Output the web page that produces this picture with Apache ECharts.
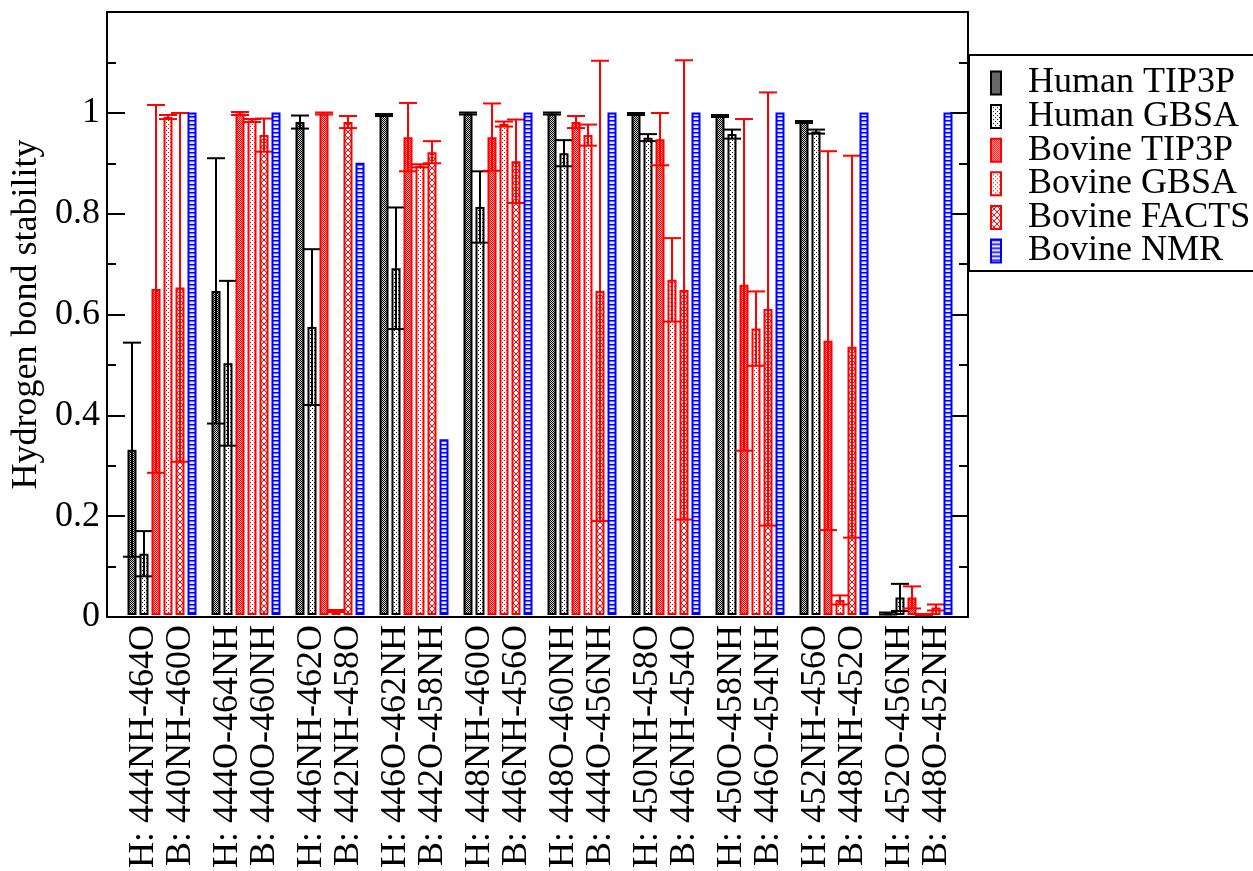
<!DOCTYPE html>
<html>
<head>
<meta charset="utf-8">
<script src="https://cdn.jsdelivr.net/npm/echarts@6/dist/echarts.min.js"></script>
<style>
  html, body { margin: 0; padding: 0; background: #fff; }
  #chart { width: 1253px; height: 871px; }
</style>
</head>
<body>
<div id="chart"></div>
<script>
// Hydrogen bond pairs (human / bovine numbering)
const humanBonds = ['444NH-464O', '444O-464NH', '446NH-462O', '446O-462NH', '448NH-460O',
                    '448O-460NH', '450NH-458O', '450O-458NH', '452NH-456O', '452O-456NH'];
const bovineBonds = ['440NH-460O', '440O-460NH', '442NH-458O', '442O-458NH', '446NH-456O',
                     '444O-456NH', '446NH-454O', '446O-454NH', '448NH-452O', '448O-452NH'];

// Stability fractions and their error half-widths
const humanTip3p    = [0.329, 0.645, 0.981, 0.995, 0.998, 0.998, 0.997, 0.993, 0.981, 0.003];
const humanTip3pErr = [0.213, 0.264, 0.013, 0.002, 0.002, 0.002, 0.002, 0.002, 0.002, 0.002];
const humanGbsa     = [0.122, 0.501, 0.573, 0.690, 0.812, 0.919, 0.950, 0.957, 0.962, 0.035];
const humanGbsaErr  = [0.045, 0.164, 0.155, 0.121, 0.071, 0.026, 0.007, 0.009, 0.004, 0.027];
const bovineTip3p    = [0.649, 0.998, 0.998, 0.951, 0.951, 0.981, 0.947, 0.657, 0.546, 0.035];
const bovineTip3pErr = [0.366, 0.003, 0.002, 0.068, 0.067, 0.012, 0.052, 0.330, 0.377, 0.022];
const bovineGbsa     = [0.991, 0.984, 0.008, 0.894, 0.977, 0.955, 0.667, 0.570, 0.030, 0.001];
const bovineGbsaErr  = [0.004, 0.003, 0.002, 0.003, 0.005, 0.021, 0.083, 0.074, 0.009, 0.001];
const bovineFacts    = [0.652, 0.955, 0.981, 0.921, 0.903, 0.645, 0.647, 0.609, 0.534, 0.015];
const bovineFactsErr = [0.347, 0.033, 0.012, 0.022, 0.083, 0.458, 0.457, 0.431, 0.380, 0.006];
const bovineNmr      = [1, 1, 0.9, 0.35, 1, 1, 1, 1, 1, 1];

const yTicks = [0, 0.2, 0.4, 0.6, 0.8, 1];

const categories = humanBonds.map((h, i) => 'H: ' + h + '\nB: ' + bovineBonds[i]);

const FONT = 'Liberation Serif';
const BAR_W = 9;
const PITCH = 12;

// Small tiled fill patterns
function pattern(w, h, paint) {
  const c = document.createElement('canvas');
  c.width = w; c.height = h;
  const ctx = c.getContext('2d');
  paint(ctx);
  return { image: c, repeat: 'repeat' };
}
function checker(dark, light) {
  return pattern(2, 2, ctx => {
    ctx.fillStyle = light; ctx.fillRect(0, 0, 2, 2);
    ctx.fillStyle = dark; ctx.fillRect(0, 0, 1, 1); ctx.fillRect(1, 1, 1, 1);
  });
}
function dots(col) {
  return pattern(4, 4, ctx => {
    ctx.fillStyle = '#fff'; ctx.fillRect(0, 0, 4, 4);
    ctx.fillStyle = col; ctx.fillRect(0, 0, 1, 1); ctx.fillRect(2, 2, 1, 1);
  });
}
function crosses(col) {
  return pattern(6, 6, ctx => {
    ctx.fillStyle = '#fff'; ctx.fillRect(0, 0, 6, 6);
    ctx.strokeStyle = col; ctx.lineWidth = 1;
    ctx.beginPath();
    ctx.moveTo(0, 0); ctx.lineTo(6, 6);
    ctx.moveTo(6, 0); ctx.lineTo(0, 6);
    ctx.stroke();
  });
}
function stripes(col) {
  return pattern(4, 4, ctx => {
    ctx.fillStyle = '#e4e4ff'; ctx.fillRect(0, 0, 4, 4);
    ctx.fillStyle = col; ctx.fillRect(0, 0, 4, 1);
    ctx.fillStyle = '#7070ff'; ctx.fillRect(0, 1, 4, 1);
  });
}

const sets = [
  { name: 'Human TIP3P',  values: humanTip3p,  errors: humanTip3pErr,  line: '#000000', fill: checker('#000000', '#d0d0d0') },
  { name: 'Human GBSA',   values: humanGbsa,   errors: humanGbsaErr,   line: '#000000', fill: dots('#000000') },
  { name: 'Bovine TIP3P', values: bovineTip3p, errors: bovineTip3pErr, line: '#ff0000', fill: checker('#ff0000', '#ffc8c8') },
  { name: 'Bovine GBSA',  values: bovineGbsa,  errors: bovineGbsaErr,  line: '#ff0000', fill: dots('#ff0000') },
  { name: 'Bovine FACTS', values: bovineFacts, errors: bovineFactsErr, line: '#ff0000', fill: crosses('#ff0000') },
  { name: 'Bovine NMR',   values: bovineNmr,   errors: null,           line: '#0000ff', fill: stripes('#0000ff') }
];

function errorBars(slot, color) {
  return function (params, api) {
    const idx = api.value(0), v = api.value(1), e = api.value(2);
    const hi = api.coord([idx, v + e]);
    const lo = api.coord([idx, Math.max(v - e, 0)]);
    const x = hi[0] + (slot - 2.5) * PITCH;
    const half = 9;
    const st = { stroke: color, lineWidth: 2 };
    return {
      type: 'group',
      children: [
        { type: 'line', shape: { x1: x, y1: hi[1], x2: x, y2: lo[1] }, style: st },
        { type: 'line', shape: { x1: x - half, y1: hi[1], x2: x + half, y2: hi[1] }, style: st },
        { type: 'line', shape: { x1: x - half, y1: lo[1], x2: x + half, y2: lo[1] }, style: st }
      ]
    };
  };
}

const series = [];
sets.forEach((s, k) => {
  series.push({
    name: s.name,
    type: 'bar',
    xAxisIndex: 0,
    yAxisIndex: 0,
    barWidth: BAR_W,
    barGap: ((PITCH - BAR_W) / BAR_W * 100).toFixed(2) + '%',
    z: 2 + 2 * k,
    itemStyle: { color: s.fill, borderColor: s.line, borderWidth: 2 },
    data: s.values
  });
  if (s.errors) {
    series.push({
      type: 'custom',
      xAxisIndex: 0,
      yAxisIndex: 0,
      z: 3 + 2 * k,
      renderItem: errorBars(k, s.line),
      data: s.values.map((v, i) => [i, v, s.errors[i]])
    });
  }
});

const frameAxisX = {
  type: 'value', gridIndex: 1, min: 0, max: 1,
  axisLine: { show: true, onZero: false, lineStyle: { color: '#000', width: 2 } },
  axisTick: { show: false }, axisLabel: { show: false }, splitLine: { show: false }
};
const frameAxisY = {
  type: 'value', gridIndex: 1, min: 0, max: 1.2, interval: 0.2,
  axisLine: { show: true, onZero: false, lineStyle: { color: '#000', width: 2 } },
  axisTick: { show: true, inside: true, length: 18, lineStyle: { color: '#000', width: 2 } },
  minorTick: { show: true, splitNumber: 2, length: 9, lineStyle: { color: '#000', width: 2 } },
  splitLine: { show: false }
};

const chart = echarts.init(document.getElementById('chart'), null, { renderer: 'canvas' });
chart.setOption({
  animation: false,
  backgroundColor: '#ffffff',
  grid: [
    { left: 120, top: 12, width: 840, height: 605 },
    { left: 107, top: 12, width: 861, height: 605 }
  ],
  xAxis: [
    {
      type: 'category', gridIndex: 0, data: categories,
      axisLine: { show: false }, axisTick: { show: false },
      axisLabel: {
        rotate: 90, margin: 10, interval: 0,
        fontFamily: FONT, fontSize: 36, lineHeight: 37, color: '#000',
        padding: [0, 0, 11, 0]
      }
    },
    Object.assign({}, frameAxisX, { position: 'bottom' }),
    Object.assign({}, frameAxisX, { position: 'top' })
  ],
  yAxis: [
    { type: 'value', gridIndex: 0, min: 0, max: 1.2, show: false },
    Object.assign({}, frameAxisY, {
      position: 'left',
      name: 'Hydrogen bond stability',
      nameLocation: 'middle',
      nameGap: 53,
      nameTextStyle: { fontFamily: FONT, fontSize: 36, color: '#000' },
      axisLabel: {
        show: true, margin: 7, fontFamily: FONT, fontSize: 36, color: '#000',
        formatter: v => {
          const t = yTicks.find(y => Math.abs(y - v) < 1e-6);
          return t === undefined ? '' : String(t);
        }
      }
    }),
    Object.assign({}, frameAxisY, { position: 'right', axisLabel: { show: false } })
  ],
  legend: {
    orient: 'vertical',
    left: 990,
    top: 65,
    padding: 0,
    itemGap: -2.4,
    itemWidth: 10,
    itemHeight: 23,
    icon: 'rect',
    selectedMode: false,
    data: sets.map(s => s.name),
    textStyle: { fontFamily: FONT, fontSize: 36, color: '#000', padding: [0, 0, 0, 22] }
  },
  graphic: [
    {
      type: 'rect', z: -1,
      shape: { x: 969, y: 55, width: 400, height: 216 },
      style: { fill: '#fff', stroke: '#000', lineWidth: 2 }
    }
  ],
  series: series
});
</script>
</body>
</html>
